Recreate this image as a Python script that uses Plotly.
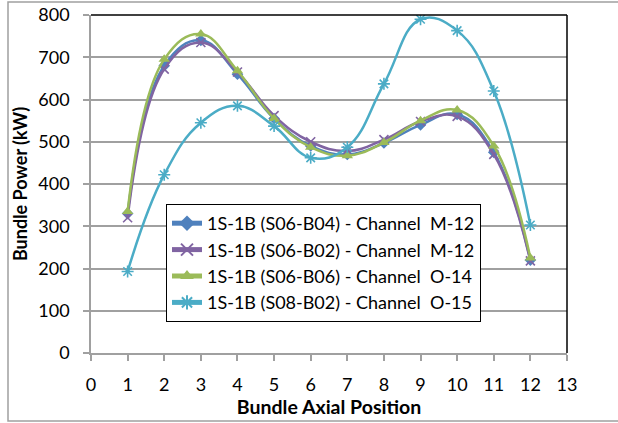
import plotly.graph_objects as go

# Bundle axial positions and bundle power (kW) for each channel
positions = [1, 2, 3, 4, 5, 6, 7, 8, 9, 10, 11, 12]
s06_b04_m12 = [330, 680, 740, 660, 555, 490, 470, 497, 540, 565, 475, 220]
s06_b02_m12 = [320, 672, 735, 665, 562, 500, 478, 505, 548, 560, 470, 218]
s06_b06_o14 = [335, 695, 755, 668, 555, 487, 467, 498, 550, 575, 490, 225]
s08_b02_o15 = [193, 422, 545, 585, 537, 462, 487, 637, 790, 763, 620, 303]

series_names = [
    "1S-1B (S06-B04) - Channel  M-12",
    "1S-1B (S06-B02) - Channel  M-12",
    "1S-1B (S06-B06) - Channel  O-14",
    "1S-1B (S08-B02) - Channel  O-15",
]
x_ticks = list(range(0, 14))
y_ticks = list(range(0, 801, 100))

FONT = "Lato, Calibri, 'Noto Sans', sans-serif"

styles = [
    dict(color="#4F81BD", symbol="diamond", size=9, mline=0),
    dict(color="#8064A2", symbol="x-thin-open", size=9, mline=1.6),
    dict(color="#9BBB59", symbol="triangle-up", size=10, mline=0),
    dict(color="#4BACC6", symbol="asterisk-open", size=10, mline=1.6),
]

fig = go.Figure()
for name, vals, st in zip(series_names,
                          [s06_b04_m12, s06_b02_m12, s06_b06_o14, s08_b02_o15],
                          styles):
    fig.add_trace(go.Scatter(
        x=positions, y=vals, name=name, mode="lines+markers",
        line=dict(color=st["color"], width=2.5, shape="spline", smoothing=1.2),
        marker=dict(symbol=st["symbol"], size=st["size"], color=st["color"],
                    line=dict(color=st["color"], width=st["mline"])),
        cliponaxis=True,
    ))

L, R, T, B = 91, 51, 15, 70
W, H = 618, 423
pw, ph = W - L - R, H - T - B


def px_x(p):
    return (p - L) / pw


def px_y(p):
    return (H - B - p) / ph


fig.update_layout(
    width=W, height=H,
    margin=dict(l=L, r=R, t=T, b=B, autoexpand=False),
    paper_bgcolor="white", plot_bgcolor="white",
    font=dict(family=FONT, size=14, color="black"),
    showlegend=True,
    legend=dict(
        x=px_x(166), y=px_y(204), xanchor="left", yanchor="top",
        bgcolor="white", bordercolor="black", borderwidth=1,
        font=dict(family=FONT, size=18, color="black"),
        tracegroupgap=0, itemsizing="constant",
    ),
    xaxis=dict(
        range=[0, 13], tickvals=x_ticks, ticktext=[str(v) for v in x_ticks],
        automargin=False,
        showgrid=False, zeroline=False,
        showline=True, linecolor="#A0A0A0", linewidth=1.5,
        ticks="outside", ticklen=6, tickcolor="#A0A0A0", tickwidth=1.5,
        ticklabelstandoff=9,
        tickfont=dict(family=FONT, size=18),
        title=dict(text="<b>Bundle Axial Position</b>", standoff=4,
                   font=dict(family=FONT, size=19.5)),
    ),
    yaxis=dict(
        range=[0, 800], tickvals=y_ticks, ticktext=[str(v) for v in y_ticks],
        automargin=False,
        showgrid=True, gridcolor="#A0A0A0", gridwidth=1.5, zeroline=False,
        showline=True, linecolor="#A0A0A0", linewidth=1.5,
        ticks="outside", ticklen=6, tickcolor="#A0A0A0", tickwidth=1.5,
        ticklabelstandoff=10,
        tickfont=dict(family=FONT, size=18),
        title=dict(text="<b>Bundle Power (kW)</b>", standoff=6,
                   font=dict(family=FONT, size=18)),
    ),
    shapes=[
        # black frame on top and right of the plot area
        dict(type="line", xref="paper", yref="paper", x0=0, x1=1, y0=1, y1=1,
             line=dict(color="black", width=1.5)),
        dict(type="line", xref="paper", yref="paper", x0=1, x1=1, y0=0, y1=1,
             line=dict(color="black", width=1.5)),
        # outer chart border
        dict(type="rect", xref="paper", yref="paper",
             x0=px_x(8), x1=px_x(640), y0=px_y(421), y1=px_y(2),
             line=dict(color="#A0A0A0", width=1.5), layer="below"),
    ],
)

fig.write_html("out.html")
